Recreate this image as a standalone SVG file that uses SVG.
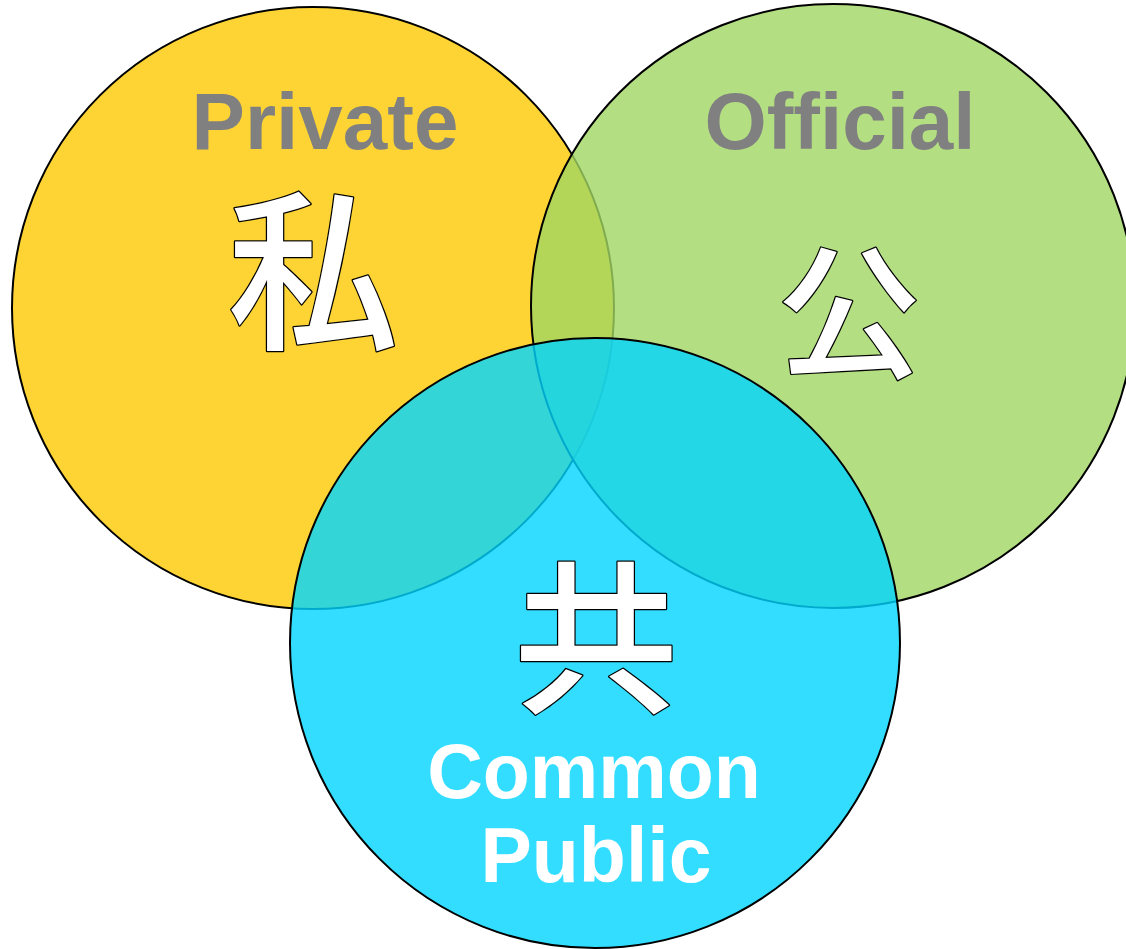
<svg xmlns="http://www.w3.org/2000/svg" width="1126" height="949" viewBox="0 0 1126 949">
<style>
.c{stroke:#000;stroke-width:2;}
.lbl{font-family:"Liberation Sans",Arial,sans-serif;font-weight:bold;font-size:77px;text-anchor:middle;}
.gray{fill:#808080;font-size:80px;}
.white{fill:#fff;}
.kanji{font-family:"Noto Sans CJK JP","Noto Sans CJK SC",sans-serif;font-weight:500;fill:#fff;stroke:#000;stroke-width:2.5;stroke-linejoin:round;text-anchor:middle;paint-order:stroke;}
</style>
<rect width="1126" height="949" fill="#fff"/>
<g id="private">
<circle class="c" cx="313" cy="308" r="301" fill="#FED435"/>
<text class="lbl gray" x="325" y="149">Private</text>
<text class="kanji" x="313" y="336" font-size="172">私</text>
</g>
<g id="official">
<circle class="c" cx="833" cy="306" r="302" fill="rgb(160,214,99)" fill-opacity="0.8"/>
<text class="lbl gray" x="840" y="149">Official</text>
<text class="kanji" x="849" y="367" font-size="145">公</text>
</g>
<g id="common">
<circle class="c" cx="595" cy="643" r="305" fill="rgb(0,212,255)" fill-opacity="0.8"/>
<text class="kanji" x="596" y="700" font-size="165">共</text>
<text class="lbl white" x="594" y="798">Common</text>
<text class="lbl white" x="596" y="882">Public</text>
</g>
<g id="connectors"></g>
</svg>
